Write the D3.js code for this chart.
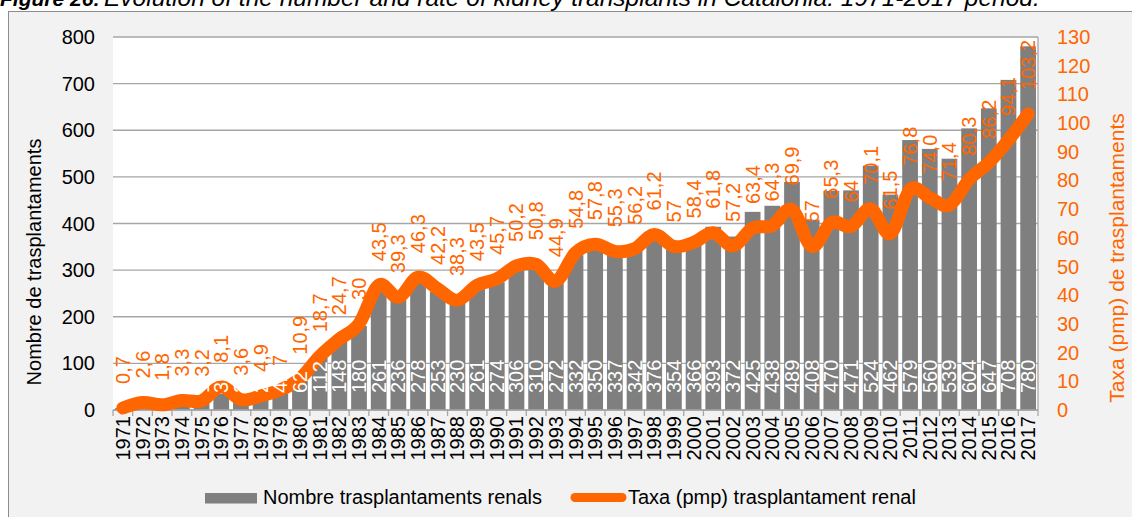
<!DOCTYPE html>
<html><head><meta charset="utf-8">
<script src="https://cdn.jsdelivr.net/npm/d3@7"></script>
<style>
html,body{margin:0;padding:0;background:#fff;}
svg{display:block;font-family:"Liberation Sans",Arial,sans-serif;}
</style></head>
<body><svg id="c" width="1132" height="517"></svg>
<script>
const years = [1971,1972,1973,1974,1975,1976,1977,1978,1979,1980,1981,1982,1983,1984,1985,1986,1987,1988,1989,1990,1991,1992,1993,1994,1995,1996,1997,1998,1999,2000,2001,2002,2003,2004,2005,2006,2007,2008,2009,2010,2011,2012,2013,2014,2015,2016,2017];
const transplants = [4,14,10,19,18,35,21,29,42,62,112,148,180,261,236,278,253,230,261,274,306,310,272,332,350,337,342,376,354,366,393,372,425,438,489,408,470,471,524,462,579,560,539,604,647,708,780];
const rates = [0.7,2.6,1.8,3.3,3.2,8.1,3.6,4.9,7,10.9,18.7,24.7,30,43.5,39.3,46.3,42.2,38.3,43.5,45.7,50.2,50.8,44.9,54.8,57.8,55.3,56.2,61.2,57,58.4,61.8,57.2,63.4,64.3,69.9,57,65.3,64,70.1,61.5,76.8,74.0,71.4,80.3,86.2,94.1,103.2];
const rateLabels = ["0,7","2,6","1,8","3,3","3,2","8,1","3,6","4,9","7","10,9","18,7","24,7","30","43,5","39,3","46,3","42,2","38,3","43,5","45,7","50,2","50,8","44,9","54,8","57,8","55,3","56,2","61,2","57","58,4","61,8","57,2","63,4","64,3","69,9","57","65,3","64","70,1","61,5","76,8","74,0","71,4","80,3","86,2","94,1","103,2"];
const leftTicks = [0,100,200,300,400,500,600,700,800];
const rightTicks = [0,10,20,30,40,50,60,70,80,90,100,110,120,130];
const seriesNames = ["Nombre trasplantaments renals","Taxa (pmp) trasplantament renal"];
const leftTitle = "Nombre de trasplantaments";
const rightTitle = "Taxa (pmp) de trasplantaments";
const titleBold = "Figure 26:";
const titleRest = "Evolution of the number and rate of kidney transplants in Catalonia. 1971-2017 period.";

const ORANGE = "#ff6600", GREY = "#7f7f7f", GRID = "#a6a6a6";
const svg = d3.select("#c");
const L = 113, R = 1038, T = 37, B = 410;

const x = d3.scaleBand().domain(years).range([L, R]).paddingInner(0.2).paddingOuter(0.1);
const yL = d3.scaleLinear().domain([0, 800]).range([B, T]);
const yR = d3.scaleLinear().domain([0, 130]).range([B, T]);

// title
const tt = svg.append("text").attr("x", 0).attr("y", 6).attr("font-style", "italic").attr("fill", "#000");
tt.append("tspan").attr("font-weight", "bold").attr("font-size", 21).text(titleBold);
tt.append("tspan").attr("x", 104).attr("font-size", 24.5).text(titleRest);

// frame
svg.append("rect").attr("x", 8.5).attr("y", 11.5).attr("width", 1140).attr("height", 520)
  .attr("fill", "#f2f2f2").attr("stroke", "#8c8c8c").attr("stroke-width", 1);
// plot area
svg.append("rect").attr("x", L).attr("y", T).attr("width", R - L).attr("height", B - T).attr("fill", "#fff");

// gridlines
svg.append("g").selectAll("line").data(leftTicks).join("line")
  .attr("x1", L).attr("x2", R).attr("y1", d => yL(d)).attr("y2", d => yL(d))
  .attr("stroke", GRID).attr("stroke-width", 1.3);

// left axis labels
svg.append("g").selectAll("text").data(leftTicks).join("text")
  .attr("x", 95).attr("y", d => yL(d)).attr("dy", "0.35em").attr("text-anchor", "end")
  .attr("font-size", 20).attr("fill", "#000").text(d => d);

// right axis labels
svg.append("g").selectAll("text").data(rightTicks).join("text")
  .attr("x", 1057).attr("y", d => yR(d)).attr("dy", "0.35em").attr("text-anchor", "start")
  .attr("font-size", 20).attr("fill", ORANGE).text(d => d);

// bars
svg.append("g").selectAll("rect").data(years).join("rect")
  .attr("x", d => x(d)).attr("width", x.bandwidth())
  .attr("y", (d, i) => yL(transplants[i])).attr("height", (d, i) => B - yL(transplants[i]))
  .attr("fill", GREY);

// axis line & ticks
svg.append("line").attr("x1", L).attr("x2", R).attr("y1", B).attr("y2", B).attr("stroke", GRID).attr("stroke-width", 1.3);
svg.append("line").attr("x1", R).attr("x2", R).attr("y1", T).attr("y2", B).attr("stroke", GRID).attr("stroke-width", 1.3);
const step = x.step();
svg.append("g").selectAll("line").data(d3.range(years.length + 1)).join("line")
  .attr("x1", i => L + i * step).attr("x2", i => L + i * step).attr("y1", B).attr("y2", B + 6)
  .attr("stroke", GRID).attr("stroke-width", 1.3);

// year labels
svg.append("g").selectAll("text").data(years).join("text")
  .attr("transform", d => `translate(${x(d) + x.bandwidth() / 2},416) rotate(-90)`)
  .attr("dy", "0.35em").attr("text-anchor", "end").attr("font-size", 20).attr("fill", "#000").text(d => d);

// line
const line = d3.line().x((d, i) => x(years[i]) + x.bandwidth() / 2).y(d => yR(d)).curve(d3.curveCardinal.tension(0));
svg.append("path").datum(rates).attr("d", line).attr("fill", "none")
  .attr("stroke", ORANGE).attr("stroke-width", 13).attr("stroke-linecap", "round").attr("stroke-linejoin", "round");

// bar value labels
svg.append("g").selectAll("text").data(years).join("text")
  .attr("transform", d => `translate(${x(d) + x.bandwidth() / 2},393) rotate(-90)`)
  .attr("dy", "0.35em").attr("text-anchor", "start").attr("font-size", 20).attr("fill", "#fff")
  .text((d, i) => transplants[i]);

// rate labels
svg.append("g").selectAll("text").data(years).join("text")
  .attr("transform", (d, i) => `translate(${x(d) + x.bandwidth() / 2},${yR(rates[i]) - 24}) rotate(-90)`)
  .attr("dy", "0.35em").attr("text-anchor", "start").attr("font-size", 20).attr("fill", ORANGE)
  .text((d, i) => rateLabels[i]);

// axis titles
svg.append("text").attr("transform", "translate(34,262) rotate(-90)").attr("dy", "0.35em")
  .attr("text-anchor", "middle").attr("font-size", 20).attr("fill", "#000").text(leftTitle);
svg.append("text").attr("transform", "translate(1117,258) rotate(-90)").attr("dy", "0.35em")
  .attr("text-anchor", "middle").attr("font-size", 21).attr("fill", ORANGE).text(rightTitle);

// legend
svg.append("rect").attr("x", 205).attr("y", 493).attr("width", 52).attr("height", 10.5).attr("fill", GREY);
svg.append("text").attr("x", 263).attr("y", 504).attr("font-size", 20).attr("fill", "#000").text(seriesNames[0]);
svg.append("line").attr("x1", 575).attr("x2", 622).attr("y1", 497.5).attr("y2", 497.5)
  .attr("stroke", ORANGE).attr("stroke-width", 9).attr("stroke-linecap", "round");
svg.append("text").attr("x", 628).attr("y", 504).attr("font-size", 20).attr("fill", "#000").text(seriesNames[1]);
</script></body></html>
